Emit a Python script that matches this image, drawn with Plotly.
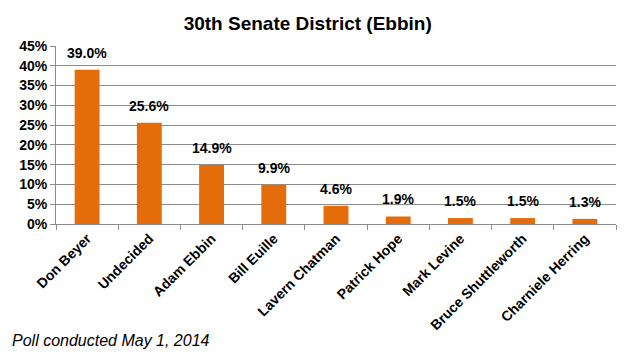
import plotly.graph_objects as go

candidates = ["Don Beyer", "Undecided", "Adam Ebbin", "Bill Euille", "Lavern Chatman",
              "Patrick Hope", "Mark Levine", "Bruce Shuttleworth", "Charniele Herring"]
shares = [39.0, 25.6, 14.9, 9.9, 4.6, 1.9, 1.5, 1.5, 1.3]
tick_vals = [0, 5, 10, 15, 20, 25, 30, 35, 40, 45]
tick_text = [f"{v}%" for v in tick_vals]

font_family = "Liberation Sans, Arial, sans-serif"

fig = go.Figure(go.Bar(
    x=candidates, y=shares,
    marker=dict(color="#E46C0A", line=dict(width=0)),
    hoverinfo="x+y",
))

for c, v in zip(candidates, shares):
    fig.add_annotation(
        x=c, y=v, xref="x", yref="y", text=f"<b>{v:.1f}%</b>",
        showarrow=False, yanchor="middle", yshift=17,
        font=dict(family=font_family, size=14, color="black"),
    )

fig.update_layout(
    width=628, height=354,
    margin=dict(l=56, r=12, t=46, b=130),
    paper_bgcolor="white", plot_bgcolor="white",
    bargap=0.6,
    showlegend=False,
    title=dict(text="<b>30th Senate District (Ebbin)</b>", x=0.49, xanchor="center",
               y=1 - 23/354, yanchor="middle",
               font=dict(family=font_family, size=19, color="black")),
    font=dict(family=font_family, color="black"),
)

fig.update_yaxes(
    range=[0, 45], tickvals=tick_vals, ticktext=[f"<b>{t}</b>" for t in tick_text],
    showgrid=True, gridcolor="#8c8c8c", gridwidth=1,
    showline=True, linecolor="#8c8c8c", linewidth=1,
    ticks="outside", ticklen=5, tickcolor="#8c8c8c",
    tickfont=dict(size=14, color="black"), zeroline=False,
)
fig.update_xaxes(
    tickangle=-45, tickmode="array", tickvals=candidates,
    ticktext=[f"<b>{c}</b>" for c in candidates],
    tickson="boundaries", ticks="outside", ticklen=5, tickcolor="#8c8c8c",
    showline=True, linecolor="#8c8c8c", linewidth=1,
    tickfont=dict(size=14, color="black"),
)

fig.add_annotation(
    text="<i>Poll conducted May 1, 2014</i>", xref="paper", yref="paper",
    x=(10 - 56) / 560, y=(224 - 340) / 178, showarrow=False,
    xanchor="left", yanchor="middle",
    font=dict(family=font_family, size=16, color="black"),
)

fig.write_html("out.html")
